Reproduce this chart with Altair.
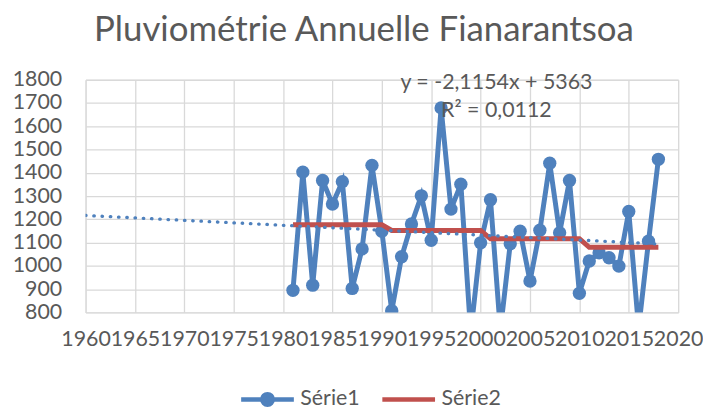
import altair as alt
import pandas as pd

# ---- data ----
years1 = list(range(1981, 2019))
values1 = [895, 1403, 917, 1367, 1266, 1362, 903, 1073, 1432, 1149,
           807, 1039, 1180, 1301, 1110, 1679, 1244, 1351, 710, 1099,
           1284, 722, 1095, 1149, 935, 1153, 1441, 1142, 1367, 882,
           1021, 1056, 1035, 999, 1234, 731, 1106, 1458]
values2 = [1177] * 10 + [1152] * 10 + [1117] * 10 + [1080] * 8
series_names = ["Série1", "Série2"]
trend_years = [1960, 2018]
trend_slope = -2.1154
trend_intercept = 5363
eq_lines = ["y = -2,1154x + 5363", "R² = 0,0112"]
eq_pos = (2001.6, 1784)
x_ticks = list(range(1960, 2021, 5))
y_ticks = list(range(800, 1801, 100))

FONT = "Lato"
GREY = "#595959"
BLUE = "#4F81BD"
RED = "#C0504D"
LBL = 21.5

df1 = pd.DataFrame({"year": years1, "value": values1, "s1": series_names[0]})
df2 = pd.DataFrame({"year": years1, "value": values2, "s2": series_names[1]})
dft = pd.DataFrame({"year": trend_years})
dfe = pd.DataFrame({"year": [eq_pos[0]], "value": [eq_pos[1]], "txt": [eq_lines]})

xscale = alt.Scale(domain=[1960, 2020], nice=False, zero=False)
yscale = alt.Scale(domain=[800, 1800], nice=False, zero=False)

xaxis = alt.Axis(values=x_ticks, format="d", title=None, grid=True, gridColor="#D9D9D9",
                 gridWidth=1.3, domain=False, ticks=False, labelFont=FONT, labelFontSize=LBL,
                 labelColor=GREY, labelPadding=16, labelOverlap=False, labelFlush=False,
                 labelBound=False)
yaxis = alt.Axis(values=y_ticks, format="d", title=None, grid=True, gridColor="#D9D9D9",
                 gridWidth=1.3, domain=False, ticks=False, labelFont=FONT, labelFontSize=LBL,
                 labelColor=GREY, labelPadding=24, labelOverlap=False, labelFlush=False,
                 labelBound=False)

X = alt.X("year:Q", scale=xscale, axis=xaxis)
Y = alt.Y("value:Q", scale=yscale, axis=yaxis)

path1 = "M-1,0H1M-0.2,0A0.2,0.2 0 1,1 0.2,0A0.2,0.2 0 1,1 -0.2,0Z"
path2 = "M-1,0H1"

def legend(x, path, fill):
    return alt.Legend(orient="none", legendX=x, legendY=292.5, direction="horizontal",
                      title=None, labelFont=FONT, labelFontSize=LBL, labelColor=GREY,
                      symbolSize=2809, symbolStrokeWidth=4.5, symbolType=path,
                      symbolFillColor=fill, labelOffset=4)

color1 = alt.Color("s1:N", scale=alt.Scale(domain=[series_names[0]], range=[BLUE]),
                   legend=legend(154, path1, BLUE))
color2 = alt.Color("s2:N", scale=alt.Scale(domain=[series_names[1]], range=[RED]),
                   legend=legend(296, path2, "transparent"))

base1 = alt.Chart(df1)
line1 = base1.mark_line(strokeWidth=5, clip=True).encode(x=X, y=Y, color=color1)
pts1 = base1.mark_circle(size=180, opacity=1, clip=True, color=BLUE).encode(x=X, y=Y)
line2 = alt.Chart(df2).mark_line(strokeWidth=5, clip=True).encode(x=X, y=Y, color=color2)
trend = alt.Chart(dft).transform_calculate(
    value=f"{trend_slope} * datum.year + {trend_intercept}"
).mark_line(strokeWidth=3.3, strokeDash=[0.5, 7.8], strokeCap="round", color=BLUE,
            clip=True).encode(x=X, y=Y)
eq = alt.Chart(dfe).mark_text(font=FONT, fontSize=21.5, color=GREY, align="center",
                              baseline="middle", lineHeight=28).encode(x=X, y=Y, text="txt")

chart = alt.layer(line1, pts1, line2, trend, eq).resolve_scale(color="independent").properties(
    width=596, height=234,
    autosize=alt.AutoSizeParams(type="none"),
    padding={"left": 78, "top": 71, "right": 25, "bottom": 95},
    title=alt.TitleParams("Pluviométrie Annuelle Fianarantsoa", font=FONT, fontSize=35,
                          fontWeight="normal", color=GREY, anchor="middle", frame="group",
                          dx=-18, offset=21),
).configure_view(stroke=None).configure(background="white")

chart.save("out.html", embed_options={"renderer": "svg", "actions": False})
